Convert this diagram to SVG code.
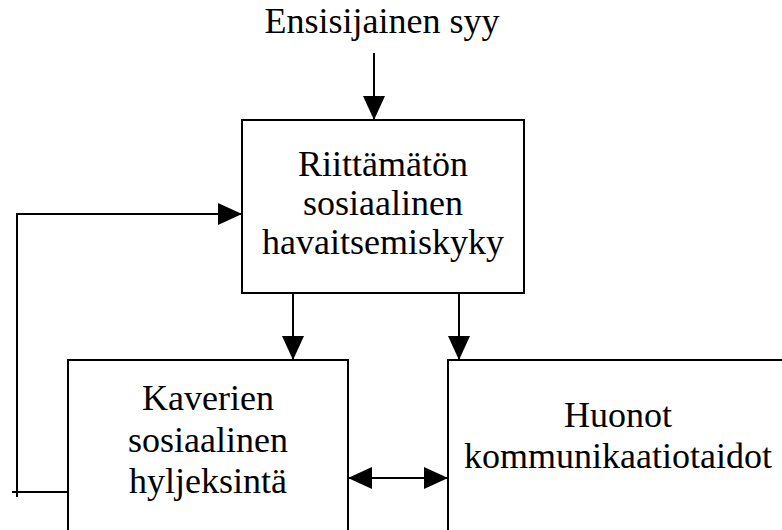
<svg xmlns="http://www.w3.org/2000/svg" width="782" height="530" viewBox="0 0 782 530">
  <style>
    .box { fill: #fff; stroke: #000; stroke-width: 2; }
    .line { fill: none; stroke: #000; stroke-width: 2; }
    text { font-family: "Liberation Serif", "Times New Roman", serif; font-size: 36px; fill: #000; text-anchor: middle; }
  </style>
  <defs>
    <marker id="arrow" viewBox="0 0 24 22" refX="24" refY="11" markerWidth="24" markerHeight="22" markerUnits="userSpaceOnUse" orient="auto-start-reverse">
      <path d="M0,0 L24,11 L0,22 Z" fill="#000"/>
    </marker>
  </defs>

  <g id="cause">
    <text x="382" y="33">Ensisijainen syy</text>
  </g>

  <g id="perception">
    <rect class="box" x="242" y="120" width="282" height="173"/>
    <text x="383" y="176">Riittämätön</text>
    <text x="383" y="215">sosiaalinen</text>
    <text x="383" y="254">havaitsemiskyky</text>
  </g>

  <g id="rejection">
    <rect class="box" x="68" y="360" width="280" height="200"/>
    <text x="208" y="410">Kaverien</text>
    <text x="208" y="452">sosiaalinen</text>
    <text x="208" y="493">hyljeksintä</text>
  </g>

  <g id="communication">
    <rect class="box" x="448" y="360" width="360" height="200"/>
    <text x="618" y="427">Huonot</text>
    <text x="618" y="468">kommunikaatiotaidot</text>
  </g>

  <g id="connectors">
    <line class="line" x1="374" y1="53" x2="374" y2="120" marker-end="url(#arrow)"/>
    <line class="line" x1="293" y1="293" x2="293" y2="360" marker-end="url(#arrow)"/>
    <line class="line" x1="459" y1="293" x2="459" y2="360" marker-end="url(#arrow)"/>
    <line class="line" x1="348" y1="478" x2="448" y2="478" marker-start="url(#arrow)" marker-end="url(#arrow)"/>
    <path class="line" d="M68,492 H12 M17,497 V214 H242" marker-end="url(#arrow)"/>
  </g>
</svg>
